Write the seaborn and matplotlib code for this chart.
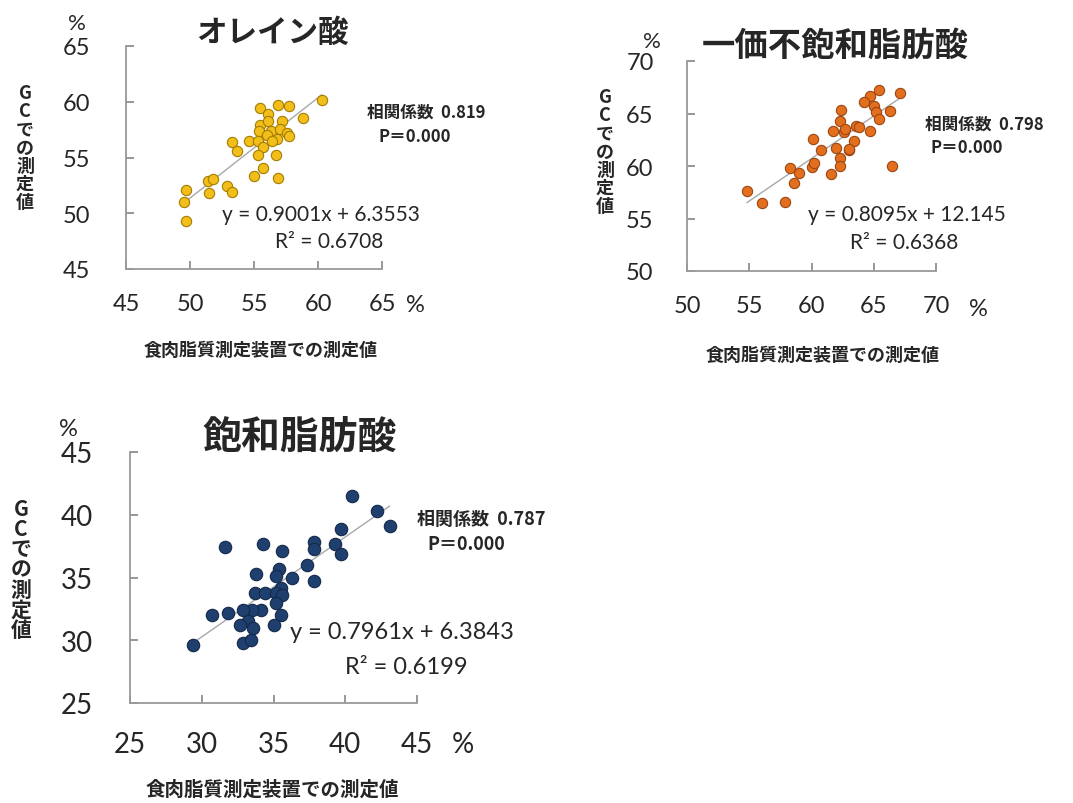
import matplotlib
matplotlib.use('Agg')
import numpy as np
import pandas as pd
import seaborn as sns
import matplotlib.pyplot as plt

# ---- data ----
ole_x = [60.3, 55.5, 56.9, 57.7, 56.1, 58.8, 57.2, 55.5, 55.4, 56.3, 57.0, 57.6,
         56.0, 56.8, 54.6, 55.3, 56.4, 53.3, 53.7, 55.7, 55.3, 56.7, 55.7, 55.0,
         56.9, 51.4, 51.8, 52.9, 53.3, 51.5, 49.7, 49.5, 49.7, 56.1, 57.7]
ole_y = [60.2, 59.4, 59.7, 59.6, 58.9, 58.5, 58.3, 57.9, 57.4, 57.4, 57.6, 57.2,
         57.0, 56.7, 56.5, 56.5, 56.5, 56.4, 55.6, 55.9, 55.2, 55.2, 54.1, 53.3,
         53.2, 52.9, 53.1, 52.4, 51.9, 51.8, 52.1, 51.0, 49.3, 58.3, 56.9]

mono_x = [54.8, 56.0, 57.9, 58.3, 59.0, 58.6, 60.0, 60.2, 60.1, 60.8, 61.6, 62.0,
          62.3, 62.3, 61.7, 62.4, 62.3, 62.6, 63.0, 63.4, 63.6, 67.1, 65.4, 64.7,
          64.2, 65.0, 65.2, 66.3, 65.4, 62.7, 63.8, 64.7, 63.0, 66.5]
mono_y = [57.6, 56.5, 56.6, 59.8, 59.3, 58.4, 59.9, 60.3, 62.6, 61.5, 59.2, 61.7,
          60.8, 60.0, 63.3, 65.3, 64.3, 63.2, 61.5, 62.4, 63.8, 67.0, 67.2, 66.7,
          66.1, 65.7, 65.1, 65.2, 64.5, 63.5, 63.7, 63.3, 61.6, 60.0]

sat_x = [40.5, 42.2, 43.1, 39.7, 39.3, 39.7, 37.8, 37.8, 37.3, 37.8, 36.3, 35.4,
         35.6, 34.3, 31.6, 33.8, 35.2, 35.5, 33.7, 34.4, 35.2, 35.6, 35.2, 35.5,
         35.0, 34.1, 33.5, 32.9, 31.8, 30.7, 33.2, 32.7, 33.6, 32.9, 33.4, 29.4]
sat_y = [41.5, 40.3, 39.1, 38.9, 37.7, 36.9, 37.8, 37.3, 36.0, 34.7, 35.0, 35.7,
         37.1, 37.7, 37.4, 35.3, 35.1, 34.2, 33.8, 33.8, 33.8, 33.6, 33.0, 32.0,
         31.2, 32.4, 32.4, 32.4, 32.2, 32.0, 31.5, 31.2, 31.0, 29.8, 30.0, 29.6]

titles = ['オレイン酸', '一価不飽和脂肪酸', '飽和脂肪酸']
slopes = [0.9001, 0.8095, 0.7961]
intercepts = [6.3553, 12.145, 6.3843]
eq_texts = ['y = 0.9001x + 6.3553', 'y = 0.8095x + 12.145', 'y = 0.7961x + 6.3843']
r2_texts = ['R² = 0.6708', 'R² = 0.6368', 'R² = 0.6199']
corr_texts = ['相関係数  0.819', '相関係数  0.798', '相関係数  0.787']
p_text = 'P＝0.000'
axis_ranges = [(45, 65), (50, 70), (25, 45)]
ylabel = 'GCでの測定値'
xlabel = '食肉脂質測定装置での測定値'

sns.set_style('white')
plt.rcParams['font.family'] = ['Lato', 'Noto Sans CJK JP', 'DejaVu Sans']
CJK = ['Noto Sans CJK JP', 'DejaVu Sans']
GRAY = '#999999'
TXT = '#262626'

W, H = 1073, 804
fig = plt.figure(figsize=(W / 100, H / 100), dpi=100)


def fx(px):
    return px / W


def fy(py):
    return 1 - py / H


def ax_at(left, top, right, bottom):
    return fig.add_axes([fx(left), fy(bottom), (right - left) / W, (bottom - top) / H])


# axes boxes in picture pixels
boxes = [(126, 47, 382, 270), (687, 62, 936, 272), (130, 453, 417, 704)]
colors = [('#F2BE1A', '#A57C00'), ('#E36F1E', '#9A4612'), ('#1F3F6E', '#14294A')]
msizes = [55, 55, 80]
tick_fs = [17, 17, 20]
ypads = [26, 24, 27]
xpads = [17, 17, 20]
tick_px = 8

frames = [pd.DataFrame({'x': ole_x, 'y': ole_y}),
          pd.DataFrame({'x': mono_x, 'y': mono_y}),
          pd.DataFrame({'x': sat_x, 'y': sat_y})]

for i, df in enumerate(frames):
    left, top, right, bottom = boxes[i]
    ax = ax_at(left, top, right, bottom)
    lo, hi = axis_ranges[i]
    sns.scatterplot(data=df, x='x', y='y', ax=ax, s=msizes[i], color=colors[i][0],
                    edgecolor=colors[i][1], linewidth=0.8, zorder=3)
    xs = np.array([df['x'].min(), df['x'].max()])
    sns.lineplot(x=xs, y=slopes[i] * xs + intercepts[i], ax=ax, color='#A8A8A8',
                 linewidth=1.0, zorder=2)
    ticks = np.arange(lo, hi + 1, 5)
    ax.set_xlim(lo, hi)
    ax.set_ylim(lo, hi)
    ax.set_xticks(ticks)
    ax.set_yticks(ticks)
    ax.set_xlabel('')
    ax.set_ylabel('')
    for s in ['top', 'right']:
        ax.spines[s].set_visible(False)
    for s in ['left', 'bottom']:
        ax.spines[s].set_color(GRAY)
        ax.spines[s].set_linewidth(1.3)
    ax.tick_params(axis='y', direction='in', length=6, width=1.3, color=GRAY,
                   left=True, pad=ypads[i], labelsize=tick_fs[i], labelcolor=TXT)
    ax.tick_params(axis='x', direction='in', length=6, width=1.3, color=GRAY,
                   bottom=True, pad=xpads[i], labelsize=tick_fs[i], labelcolor=TXT)
    # inward tick stubs drawn along the spines
    ax.vlines(ticks, 0, tick_px / (bottom - top), transform=ax.get_xaxis_transform(),
              color=GRAY, linewidth=1.3, clip_on=False, zorder=4)
    ax.hlines(ticks, 0, tick_px / (right - left), transform=ax.get_yaxis_transform(),
              color=GRAY, linewidth=1.3, clip_on=False, zorder=4)

# titles
fig.text(fx(272), fy(33), titles[0], family=CJK, fontsize=22, fontweight='bold', ha='center', va='center')
fig.text(fx(835), fy(46), titles[1], family=CJK, fontsize=24, fontweight='bold', ha='center', va='center')
fig.text(fx(300), fy(437), titles[2], family=CJK, fontsize=28, fontweight='bold', ha='center', va='center')

# percent signs
for (px, py, fs) in [(77, 24, 16), (415, 305, 17), (652, 42, 16), (978, 310, 17), (68, 429, 17), (463, 745, 20)]:
    fig.text(fx(px), fy(py), '%', fontsize=fs, color=TXT, ha='center', va='center')

# stacked vertical y labels
stacked = '\n'.join(list(ylabel))
fig.text(fx(25), fy(148), stacked, family=CJK, fontsize=13, fontweight='bold', ha='center', va='center', linespacing=0.95)
fig.text(fx(605), fy(152), stacked, family=CJK, fontsize=13, fontweight='bold', ha='center', va='center', linespacing=0.95)
fig.text(fx(21), fy(570), stacked, family=CJK, fontsize=15, fontweight='bold', ha='center', va='center', linespacing=0.95)

# x labels
fig.text(fx(261), fy(350), xlabel, family=CJK, fontsize=13, fontweight='bold', ha='center', va='center')
fig.text(fx(823), fy(355), xlabel, family=CJK, fontsize=13, fontweight='bold', ha='center', va='center')
fig.text(fx(272), fy(790), xlabel, family=CJK, fontsize=14, fontweight='bold', ha='center', va='center')

# correlation annotations
for i, (cx, cy, px, py, fs) in enumerate([(367, 113, 378, 137, 12), (925, 125, 930, 148, 12), (417, 519, 427, 545, 13)]):
    fig.text(fx(cx), fy(cy), corr_texts[i], family=CJK, fontsize=fs, fontweight='bold', ha='left', va='center')
    fig.text(fx(px), fy(py), p_text, family=CJK, fontsize=fs, fontweight='bold', ha='left', va='center')

# regression equations
for i, (ex, ey, rx, ry, fs) in enumerate([(222, 215, 275, 242, 15), (808, 215, 850, 243, 15), (290, 633, 345, 668, 17)]):
    fig.text(fx(ex), fy(ey), eq_texts[i], fontsize=fs, color=TXT, ha='left', va='center')
    fig.text(fx(rx), fy(ry), r2_texts[i], fontsize=fs, color=TXT, ha='left', va='center')

fig.savefig('out.png', dpi=100)
